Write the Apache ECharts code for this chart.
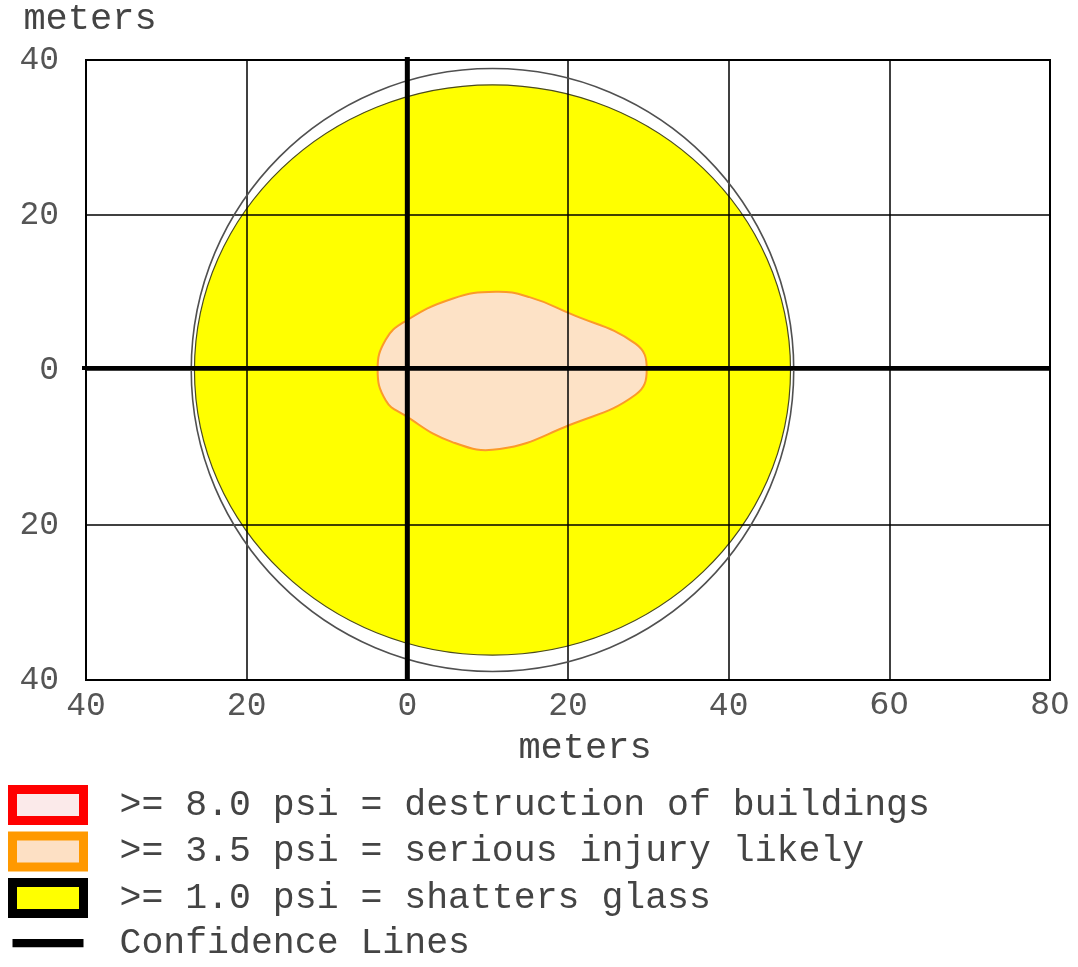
<!DOCTYPE html>
<html>
<head>
<meta charset="utf-8">
<script src="https://cdn.jsdelivr.net/npm/echarts@6/dist/echarts.min.js"></script>
<style>
html,body{margin:0;padding:0;background:#fff;}
#chart{width:1078px;height:967px;}
</style>
</head>
<body>
<div id="chart"></div>
<script>
// ---- data ----
const xTickLabels = ['40', '20', '0', '20', '40', '60', '80'];
const yTickLabels = ['40', '20', '0', '20', '40'];
const zoneNames = [
  '>= 8.0 psi = destruction of buildings',
  '>= 3.5 psi = serious injury likely',
  '>= 1.0 psi = shatters glass',
  'Confidence Lines'
];
// 1.0 psi zone: ellipse centre and radii (meters)
const glassCenter = [10.6, 0];
const glassRadii = [37.1, 36.8];
// confidence line around the 1.0 psi zone
const confidenceCenter = [10.6, 0];
const confidenceRadii = [37.5, 38.9];
// 3.5 psi zone outline (meters)
const injuryX = [-3.7, -2.7, -0.4, 5.6, 11.0, 15.2, 20.2, 28.4, 29.8, 28.4, 20.2, 11.5, 5.6, -0.4, -2.7];
const injuryY = [0.1, 3.9, 6.2, 9.2, 10.1, 9.4, 7.3, 3.4, 0.1, -3.2, -7.1, -10.2, -9.3, -5.8, -3.9];
// 8.0 psi zone: none drawn
const destructionX = [];
const destructionY = [];
// cross lines through the source
const crossX = [0];
const crossY = [0];

const xMin = -40, xMax = 80, yMin = -40, yMax = 40, step = 20;

const chart = echarts.init(document.getElementById('chart'), null, {renderer: 'canvas'});

const monoFont = 'Liberation Mono';

function ellipseItem(center, radii) {
  return [center[0], center[1], radii[0], radii[1]];
}

function renderEllipse(style) {
  return function (params, api) {
    const c = api.coord([api.value(0), api.value(1)]);
    const s = api.size([api.value(2), api.value(3)]);
    return {
      type: 'ellipse',
      shape: {cx: c[0], cy: c[1], rx: s[0], ry: s[1]},
      style: style
    };
  };
}

function renderPolygon(xs, ys, style) {
  return function (params, api) {
    if (params.dataIndex !== 0 || xs.length === 0) return null;
    const pts = xs.map((x, i) => api.coord([x, ys[i]]));
    return {type: 'polygon', shape: {points: pts, smooth: 0.45}, style: style};
  };
}

const option = {
  backgroundColor: '#ffffff',
  animation: false,
  grid: {left: 86, top: 60, width: 964, height: 620, show: true, borderColor: '#000', borderWidth: 2, backgroundColor: 'transparent'},
  xAxis: {
    type: 'value', min: xMin, max: xMax, interval: step,
    name: 'meters', nameLocation: 'middle', nameGap: 50,
    nameTextStyle: {fontFamily: monoFont, fontSize: 37, color: '#444', padding: [0, 0, 0, 34]},
    axisLine: {show: false, onZero: false}, axisTick: {show: false},
    splitLine: {show: true, lineStyle: {color: '#000', width: 1.5}},
    axisLabel: {
      margin: 10, fontFamily: monoFont, fontSize: 33, color: '#555',
      formatter: function (v) {
        const t = xTickLabels[Math.round((v - xMin) / step)];
        return v >= 60 ? '{s|' + t + '}' : t;
      },
      rich: {s: {fontFamily: 'DejaVu Sans', fontSize: 31, color: '#555'}}
    }
  },
  yAxis: {
    type: 'value', min: yMin, max: yMax, interval: step,
    name: 'meters', nameLocation: 'end', nameGap: 22,
    nameTextStyle: {fontFamily: monoFont, fontSize: 37, color: '#444', align: 'center', padding: [0, 0, 0, 8]},
    axisLine: {show: false, onZero: false}, axisTick: {show: false},
    splitLine: {show: true, lineStyle: {color: '#000', width: 1.5}},
    axisLabel: {
      margin: 27, fontFamily: monoFont, fontSize: 33, color: '#555',
      formatter: function (v) { return yTickLabels[Math.round((yMax - v) / step)]; }
    }
  },
  legend: {
    orient: 'vertical', left: 8, top: 785, padding: 0,
    itemWidth: 71, itemHeight: 31, itemGap: 6.5,
    selectedMode: false,
    textStyle: {fontFamily: monoFont, fontSize: 36.5, color: '#444', lineHeight: 38, padding: [0, 0, 0, 31]},
    data: [
      {name: zoneNames[0], icon: 'rect', itemStyle: {color: '#fbeaea', borderColor: '#ff0000', borderWidth: 9}},
      {name: zoneNames[1], icon: 'rect', itemStyle: {color: '#fde0c4', borderColor: '#ff9900', borderWidth: 9}},
      {name: zoneNames[2], icon: 'rect', itemStyle: {color: '#ffff00', borderColor: '#000000', borderWidth: 9}},
      {name: zoneNames[3], icon: 'path://M0,0L0,0M-4,10L84,10L84,20L-4,20ZM80,31L80,31', itemStyle: {color: '#000', borderWidth: 0}}
    ]
  },
  series: [
    {
      name: zoneNames[2], type: 'custom', z: -2,
      data: [ellipseItem(glassCenter, glassRadii)],
      itemStyle: {color: '#ffff00', borderColor: '#000'},
      renderItem: renderEllipse({fill: '#ffff00', stroke: '#4a4a20', lineWidth: 1.2})
    },
    {
      name: zoneNames[1], type: 'custom', z: -1,
      data: injuryX.map((x, i) => [x, injuryY[i]]),
      itemStyle: {color: '#fde0c4', borderColor: '#ff9900'},
      renderItem: renderPolygon(injuryX, injuryY, {fill: '#fde2c6', stroke: '#fb9a2a', lineWidth: 2})
    },
    {
      name: zoneNames[0], type: 'custom', z: -1,
      data: destructionX.map((x, i) => [x, destructionY[i]]),
      itemStyle: {color: '#fbeaea', borderColor: '#ff0000'},
      renderItem: renderPolygon(destructionX, destructionY, {fill: '#fbeaea', stroke: '#ff0000', lineWidth: 2})
    },
    {
      name: zoneNames[3], type: 'custom', z: 3,
      data: [ellipseItem(confidenceCenter, confidenceRadii)],
      itemStyle: {color: '#000'},
      renderItem: renderEllipse({fill: 'none', stroke: '#505050', lineWidth: 1.6})
    },
    {
      name: 'crossV', type: 'custom', z: 5,
      data: crossX.map(x => [x]),
      renderItem: function (params, api) {
        const a = api.coord([api.value(0), yMax]);
        const b = api.coord([api.value(0), yMin]);
        return {type: 'line', shape: {x1: a[0], y1: a[1] - 3, x2: b[0], y2: b[1]}, style: {stroke: '#000', lineWidth: 5}};
      }
    },
    {
      name: 'crossH', type: 'custom', z: 5,
      data: crossY.map(y => [xMin, y]),
      renderItem: function (params, api) {
        const a = api.coord([xMin, api.value(1)]);
        const b = api.coord([xMax, api.value(1)]);
        return {type: 'line', shape: {x1: a[0] - 4, y1: a[1] - 2, x2: b[0], y2: b[1] - 2}, style: {stroke: '#000', lineWidth: 4}};
      }
    }
  ]
};

chart.setOption(option);
</script>
</body>
</html>
